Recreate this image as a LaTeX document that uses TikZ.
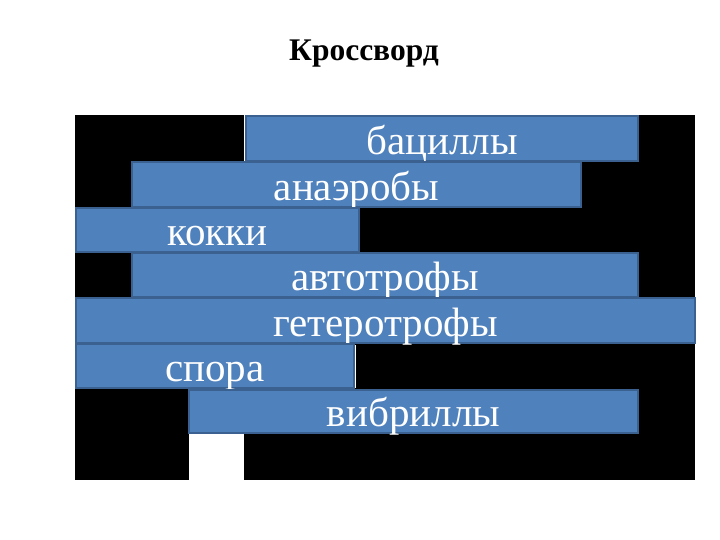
\documentclass[tikz,border=0pt]{standalone}
\usepackage{fontspec}
\setmainfont{Liberation Serif}
\definecolor{barfill}{HTML}{4F81BD}
\definecolor{barline}{HTML}{3A6190}
\tikzset{
  bar/.style={draw=barline, line width=1.8pt, fill=barfill, rectangle, inner sep=0pt},
  word/.style={text=white, font=\fontsize{41}{41}\selectfont, anchor=base, inner sep=0pt},
  title/.style={font=\fontsize{31.5}{31.5}\selectfont\bfseries, anchor=base, inner sep=0pt}
}
\begin{document}
\begin{tikzpicture}[x=1pt, y=-1pt]
\useasboundingbox (0,0) rectangle (720,540);
\node[title] (t) at (364,61) {Кроссворд};
% black board
\fill[black] (75,115) rectangle (695,480);
\fill[white] (189,434) rectangle (244,480);
\draw[white, line width=1pt] (244.5,115) -- (244.5,162);
\draw[white, line width=1pt] (355.5,345) -- (355.5,388);
% bars
\newcommand{\barbox}[6]{%
  \path[bar] (#2,#3) rectangle (#4,#5);
  \node[inner sep=0pt, minimum width=#4pt-#2pt, minimum height=#5pt-#3pt] (#1) at ({(#2+#4)/2},{(#3+#5)/2}) {};
  \node[word] (#1t) at ([yshift=7pt]#1.south) {#6};
}
\barbox{b1}{246}{116}{638}{161}{бациллы}
\barbox{b2}{132}{162}{581}{207}{анаэробы}
\barbox{b3}{76}{208}{359}{252}{кокки}
\barbox{b4}{132}{253}{638}{297}{автотрофы}
\barbox{b5}{76}{298}{695}{343}{гетеротрофы}
\barbox{b6}{76}{344}{354}{388}{спора}
\barbox{b7}{189}{390}{638}{433}{вибриллы}
\end{tikzpicture}
\end{document}
